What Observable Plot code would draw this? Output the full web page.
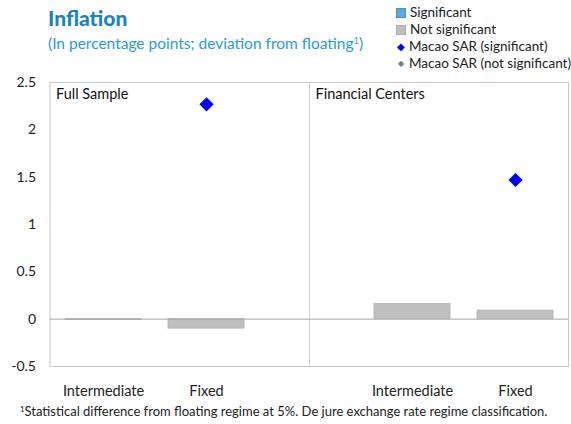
<!DOCTYPE html>
<html>
<head>
<meta charset="utf-8">
<script src="https://cdn.jsdelivr.net/npm/d3@7"></script>
<script src="https://cdn.jsdelivr.net/npm/@observablehq/plot@0.6"></script>
<style>
  html, body { margin: 0; padding: 0; background: #fff; }
  body { width: 571px; height: 424px; overflow: hidden; font-family: Lato, "Noto Sans", sans-serif; }
  #wrap { position: relative; width: 571px; height: 424px; }
  #title { position: absolute; left: 48px; top: 5px; font-size: 21px; font-weight: 900; color: #1a86b8; }
  #subtitle { position: absolute; left: 48px; top: 34px; font-size: 15.5px; color: #2b9bd1; white-space: nowrap; }
  #legend { position: absolute; left: 396px; top: 4px; font-size: 13.5px; color: #222; line-height: 17px; }
  #legend div { display: flex; align-items: center; white-space: nowrap; }
  .sw { width: 8px; height: 8px; margin-right: 4px; display: inline-block; }
  .dm { width: 9px; margin-right: 4px; display: inline-block; text-align: center; font-size: 9px; }
  #chart { position: absolute; left: 0; top: 70px; }
  #note { position: absolute; left: 20px; top: 403px; font-size: 13px; color: #222; white-space: nowrap; }
  sup { font-size: 0.6em; vertical-align: 0.55em; line-height: 0; }
</style>
</head>
<body>
<div id="wrap">
  <div id="title">Inflation</div>
  <div id="subtitle">(In percentage points; deviation from floating<sup>1</sup>)</div>
  <div id="legend"></div>
  <div id="chart"></div>
  <div id="note"><sup>1</sup>Statistical difference from floating regime at 5%. De jure exchange rate regime classification.</div>
</div>
<script>
// ---- data ----
const panels = ["Full Sample", "Financial Centers"];
const regimes = ["Intermediate", "Fixed"];
// bar values, in order: Full Sample (Intermediate, Fixed), Financial Centers (Intermediate, Fixed)
const barValues = [-0.01, -0.1, 0.16, 0.09];
const barSignificant = [false, false, false, false];
// Macao SAR values (null = none shown)
const macaoValues = [null, 2.27, null, 1.47];
const macaoSignificant = [true, true, true, true];
const yTicks = [-0.5, 0, 0.5, 1, 1.5, 2, 2.5];
const legendItems = [
  {label: "Significant", kind: "square", color: "#5da9e0", border: "#4a8fc4"},
  {label: "Not significant", kind: "square", color: "#bfbfbf", border: "#adadad"},
  {label: "Macao SAR (significant)", kind: "diamond", color: "#0000ff"},
  {label: "Macao SAR (not significant)", kind: "diamond", color: "#7f7f7f"}
];

// ---- build table ----
const GAP = "gap";
const keys = [];
const rows = [];
panels.forEach((p, i) => {
  regimes.forEach((r, j) => {
    const k = p + "|" + r;
    const idx = i * regimes.length + j;
    keys.push(k);
    rows.push({key: k, regime: r, value: barValues[idx], sig: barSignificant[idx],
               macao: macaoValues[idx], macaoSig: macaoSignificant[idx]});
  });
  if (i === 0) keys.push(GAP);
});
const labelOf = k => k === GAP ? "" : k.split("|")[1];

// ---- legend ----
const leg = document.getElementById("legend");
legendItems.forEach(it => {
  const d = document.createElement("div");
  if (it.kind === "square") {
    d.innerHTML = `<span class="sw" style="background:${it.color};border:0.5px solid ${it.border}"></span>${it.label}`;
  } else {
    const s = it.color === "#0000ff" ? 10 : 8;
    d.innerHTML = `<span class="dm" style="color:${it.color};font-size:${s}px">&#9670;</span>${it.label}`;
  }
  leg.appendChild(d);
});

// ---- chart ----
const chart = Plot.plot({
  width: 571,
  height: 330,
  marginTop: 12,
  marginBottom: 34,
  marginLeft: 49.5,
  marginRight: 3,
  style: {fontFamily: "Lato, 'Noto Sans', sans-serif", fontSize: "14px", color: "#222", background: "#fff"},
  x: {domain: keys, paddingInner: 0.26, paddingOuter: 0.13, label: null},
  y: {domain: [-0.5, 2.5], label: null},
  marks: [
    Plot.frame({stroke: "#c8c8c8"}),
    Plot.ruleX([GAP], {x: d => d, stroke: "#d0d0d0"}),
    Plot.barY(rows, {x: "key", y: "value",
      fill: d => d.sig ? "#5da9e0" : "#bfbfbf", stroke: d => d.sig ? "#4a8fc4" : "#b0b0b0", strokeWidth: 0.8}),
    Plot.ruleY([0], {stroke: "#a8a8a8"}),
    Plot.dot(rows.filter(d => d.macao != null), {x: "key", y: "macao", symbol: "diamond2", r: 6.4,
      fill: d => d.macaoSig ? "#0000ff" : "#7f7f7f", stroke: "none"}),
    Plot.text([panels[0]], {text: d => d, frameAnchor: "top-left", lineAnchor: "top",
      textAnchor: "start", dx: 6, dy: 6, fontSize: 14.5, fill: "#111"}),
    Plot.text([panels[1]], {x: () => GAP, text: d => d, frameAnchor: "top", lineAnchor: "top",
      textAnchor: "start", dx: 6, dy: 6, fontSize: 14.5, fill: "#111"}),
    Plot.axisY({ticks: yTicks, tickSize: 0, tickPadding: 14, tickFormat: d => String(d), fontSize: 14}),
    Plot.axisX({tickSize: 0, tickPadding: 19, tickFormat: labelOf, fontSize: 14.5})
  ]
});
document.getElementById("chart").appendChild(chart);
</script>
</body>
</html>
